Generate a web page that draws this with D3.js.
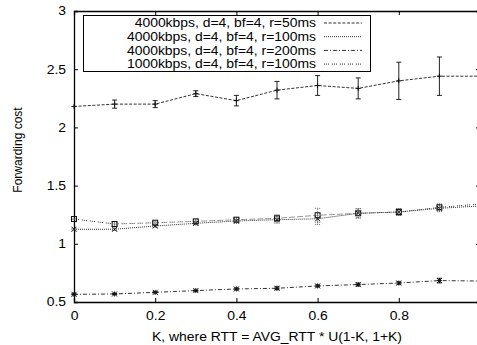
<!DOCTYPE html>
<html>
<head>
<meta charset="utf-8">
<script src="https://cdn.jsdelivr.net/npm/d3@7"></script>
<style>
  body { margin: 0; background: #fff; }
  svg { display: block; font-family: "Liberation Sans", Arial, sans-serif; }
</style>
</head>
<body>
<svg id="chart" width="477" height="345"></svg>
<script>
// forwarding cost vs K, four runs with error bars

const kValues = [0, 0.1, 0.2, 0.3, 0.4, 0.5, 0.6, 0.7, 0.8, 0.9, 1.0];

const r50 = [2.18, 2.20, 2.20, 2.29, 2.23, 2.32, 2.36, 2.335, 2.40, 2.44, 2.44];
const r50Err = [0, 0.035, 0.03, 0.025, 0.045, 0.075, 0.085, 0.09, 0.16, 0.165, 0];

const r100 = [1.125, 1.125, 1.153, 1.176, 1.196, 1.207, 1.215, 1.262, 1.273, 1.305, 1.325];
const r100Err = [0.005, 0.01, 0.012, 0.015, 0.02, 0.03, 0.05, 0.04, 0.03, 0.03, 0];

const r200 = [0.566, 0.569, 0.583, 0.598, 0.612, 0.618, 0.638, 0.65, 0.663, 0.684, 0.68];
const r200Err = [0.005, 0.005, 0.005, 0.006, 0.008, 0.012, 0.008, 0.012, 0.01, 0.02, 0];

const low1000 = [1.213, 1.17, 1.181, 1.193, 1.207, 1.219, 1.245, 1.262, 1.273, 1.313, 1.342];
const low1000Err = [0.005, 0.01, 0.012, 0.015, 0.02, 0.03, 0.06, 0.04, 0.03, 0.03, 0];

const seriesNames = [
  '4000kbps, d=4, bf=4, r=50ms',
  '4000kbps, d=4, bf=4, r=100ms',
  '4000kbps, d=4, bf=4, r=200ms',
  '1000kbps, d=4, bf=4, r=100ms'
];

const xTicks = [0, 0.2, 0.4, 0.6, 0.8];
const yTicks = [0.5, 1, 1.5, 2, 2.5, 3];

const series = [
  { name: seriesNames[0], values: r50, err: r50Err, dash: '3,1.6', marker: 'plus', barDash: null },
  { name: seriesNames[1], values: r100, err: r100Err, dash: '1,1', marker: 'cross', barDash: '1,1' },
  { name: seriesNames[2], values: r200, err: r200Err, dash: '4,2,1,2', marker: 'star', barDash: null },
  { name: seriesNames[3], values: low1000, err: low1000Err, dash: '1,1,1,1,1,3', marker: 'square', barDash: '1,1' }
];

const sx = 1.16; // the original is a bit wider than tall
const svg = d3.select('#chart');

const x = d3.scaleLinear().domain([0, 1]).range([74, 480]);
const y = d3.scaleLinear().domain([0.5, 3]).range([302, 11]);

// axes, ticks pointing inwards
svg.append('g').attr('transform', 'translate(74,0)')
  .call(d3.axisLeft(y).tickValues(yTicks).tickSize(-4).tickPadding(8 / sx).tickFormat(d3.format('')));
svg.append('g').attr('transform', 'translate(0,302)')
  .call(d3.axisBottom(x).tickValues(xTicks).tickSize(-4).tickPadding(9).tickFormat(d3.format('')));
svg.append('g').attr('transform', 'translate(0,11)')
  .call(d3.axisTop(x).tickValues(xTicks.concat([1])).tickSize(-4).tickFormat(''));
svg.append('g').attr('transform', 'translate(480,0)')
  .call(d3.axisRight(y).tickValues(yTicks).tickSize(-4).tickFormat(''));

svg.selectAll('.domain').attr('stroke', '#000').attr('stroke-width', 1.3);
svg.selectAll('.tick line').attr('stroke', '#000').attr('stroke-width', 1);
svg.selectAll('.tick text').attr('font-size', 12).attr('font-family', '"Liberation Sans", Arial, sans-serif')
  .attr('fill', '#000').attr('transform', `scale(${sx},1)`);

// axis titles
svg.append('text')
  .attr('transform', `translate(277,341) scale(${sx},1)`)
  .attr('text-anchor', 'middle').attr('font-size', 12)
  .text('K, where RTT = AVG_RTT * U(1-K, 1+K)');
svg.append('text')
  .attr('transform', 'translate(22,150) rotate(-90)')
  .attr('text-anchor', 'middle').attr('font-size', 12)
  .text('Forwarding cost');

const plot = svg.append('g');
const line = d3.line().x((d, i) => x(kValues[i])).y((d) => y(d));

function marker(g, type, cx, cy) {
  const s = 2.5;
  const m = g.append('g').attr('stroke', '#111').attr('stroke-width', 1).attr('fill', 'none');
  if (type === 'plus' || type === 'star') {
    m.append('line').attr('x1', cx - s).attr('x2', cx + s).attr('y1', cy).attr('y2', cy);
    m.append('line').attr('x1', cx).attr('x2', cx).attr('y1', cy - s).attr('y2', cy + s);
  }
  if (type === 'cross' || type === 'star') {
    m.append('line').attr('x1', cx - s).attr('x2', cx + s).attr('y1', cy - s).attr('y2', cy + s);
    m.append('line').attr('x1', cx - s).attr('x2', cx + s).attr('y1', cy + s).attr('y2', cy - s);
  }
  if (type === 'square') {
    m.append('rect').attr('x', cx - s).attr('y', cy - s).attr('width', 2 * s).attr('height', 2 * s);
  }
}

series.forEach((s) => {
  plot.append('path')
    .attr('d', line(s.values))
    .attr('fill', 'none')
    .attr('stroke', '#333')
    .attr('stroke-width', 1)
    .attr('stroke-dasharray', s.dash);

  s.values.forEach((v, i) => {
    const cx = x(kValues[i]);
    const e = s.err[i];
    if (e > 0) {
      const eb = plot.append('g').attr('stroke', s.barDash ? '#666' : '#222').attr('stroke-width', 1)
        .attr('stroke-dasharray', s.barDash);
      eb.append('line').attr('x1', cx).attr('x2', cx).attr('y1', y(v - e)).attr('y2', y(v + e));
      eb.append('line').attr('x1', cx - 2.5).attr('x2', cx + 2.5).attr('y1', y(v - e)).attr('y2', y(v - e));
      eb.append('line').attr('x1', cx - 2.5).attr('x2', cx + 2.5).attr('y1', y(v + e)).attr('y2', y(v + e));
    }
    marker(plot, s.marker, cx, y(v));
  });
});

// legend box top left
const legend = svg.append('g');
legend.append('rect')
  .attr('x', 83.5).attr('y', 15.5).attr('width', 287).attr('height', 56)
  .attr('fill', '#fff').attr('stroke', '#000').attr('stroke-width', 1);

series.forEach((s, i) => {
  const cy = 23 + i * 13.7;
  legend.append('text')
    .attr('transform', `translate(316,${cy + 4.3}) scale(${sx},1)`)
    .attr('text-anchor', 'end').attr('font-size', 12)
    .text(s.name);
  legend.append('line')
    .attr('x1', 324).attr('x2', 362).attr('y1', cy).attr('y2', cy)
    .attr('stroke', '#333').attr('stroke-width', 1)
    .attr('stroke-dasharray', s.dash);
});
</script>
</body>
</html>
